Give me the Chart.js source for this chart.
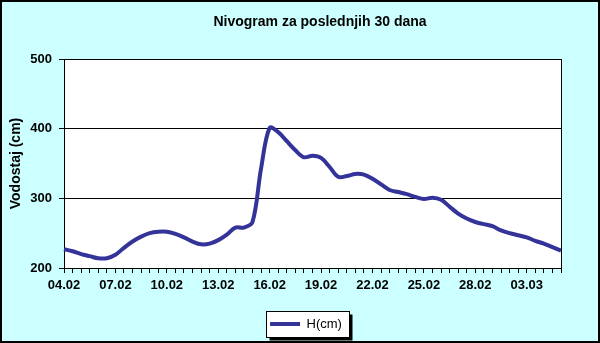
<!DOCTYPE html>
<html>
<head>
<meta charset="utf-8">
<script src="https://cdn.jsdelivr.net/npm/chart.js@4/dist/chart.umd.min.js"></script>
<style>
html,body{margin:0;padding:0;background:#CCFFFF;}
#wrap{width:600px;height:343px;position:relative;}
</style>
</head>
<body>
<div id="wrap"><canvas id="c" width="600" height="343"></canvas></div>
<script>
const titleText = 'Nivogram za poslednjih 30 dana';
const yAxisTitle = 'Vodostaj (cm)';
const seriesName = 'H(cm)';

const categories = [
  "04.02","04.02","05.02","05.02","06.02","06.02","07.02","07.02","08.02","08.02",
  "09.02","09.02","10.02","10.02","11.02","11.02","12.02","12.02","13.02","13.02",
  "14.02","14.02","15.02","15.02","16.02","16.02","17.02","17.02","18.02","18.02",
  "19.02","19.02","20.02","20.02","21.02","21.02","22.02","22.02","23.02","23.02",
  "24.02","24.02","25.02","25.02","26.02","26.02","27.02","27.02","28.02","28.02",
  "01.03","01.03","02.03","02.03","03.03","03.03","04.03","04.03","05.03"
];

const levels = [
  227,224,220,217,214,214,219,229,238,245,
  250,252,252,249,244,238,234,235,240,248,
  258,258,266,343,401,395,382,369,359,361,
  358,345,331,332,335,334,328,320,312,309,
  306,302,299,301,298,288,278,271,266,263,
  260,254,250,247,244,239,235,230,225
];

const yTicks = [200, 300, 400, 500];
const labelEvery = 6;

const FONT = "Arial, 'Liberation Sans', sans-serif";

const framePlugin = {
  id: 'frame',
  afterLayout(chart) {
    const t = chart.titleBlock;
    if (t) { t.left = 40; t.right = 600; t.width = 560; }
    const l = chart.legend;
    if (l) {
      const h = l.height;
      l.left = 0; l.right = 612; l.width = 612;
      l.top = 307.5; l.bottom = 307.5 + h;
    }
  },
  beforeDraw(chart) {
    const {ctx, chartArea: a} = chart;
    ctx.save();
    ctx.fillStyle = '#CCFFFF';
    ctx.fillRect(0, 0, chart.width, chart.height);
    ctx.fillStyle = '#FFFFFF';
    ctx.fillRect(a.left, a.top, a.right - a.left, a.bottom - a.top);
    const l = chart.legend;
    if (l && l.legendHitBoxes && l.legendHitBoxes.length) {
      const hb = l.legendHitBoxes[0];
      const bx = Math.round(hb.left - 4) + 0.5;
      const by = Math.round(hb.top - 6.5) + 0.5;
      const bw = Math.round(hb.width + 11);
      const bh = Math.round(hb.height + 13);
      ctx.fillStyle = '#000000';
      ctx.fillRect(bx + 3, by + 3, bw, bh);
      ctx.fillStyle = '#FFFFFF';
      ctx.fillRect(bx, by, bw, bh);
      ctx.strokeStyle = '#000000';
      ctx.lineWidth = 1;
      ctx.strokeRect(bx, by, bw, bh);
    }
    ctx.restore();
  },
  afterDraw(chart) {
    const {ctx, chartArea: a} = chart;
    ctx.save();
    ctx.strokeStyle = '#000000';
    ctx.lineWidth = 1;
    ctx.beginPath();
    ctx.moveTo(Math.round(a.right) + 0.5, a.top);
    ctx.lineTo(Math.round(a.right) + 0.5, a.bottom);
    ctx.stroke();
    ctx.lineWidth = 2;
    ctx.strokeRect(1, 1, chart.width - 2, chart.height - 2);
    ctx.restore();
  }
};

new Chart(document.getElementById('c'), {
  type: 'line',
  data: {
    labels: categories,
    datasets: [{
      label: seriesName,
      data: levels,
      borderColor: '#333399',
      backgroundColor: '#333399',
      borderWidth: 4,
      pointRadius: 0,
      pointHoverRadius: 0,
      pointStyle: 'line',
      tension: 0.35,
      fill: false
    }]
  },
  options: {
    responsive: false,
    animation: false,
    events: [],
    layout: { padding: { left: 0, right: 39, top: 0, bottom: 0 } },
    plugins: {
      title: {
        display: true,
        text: titleText,
        color: '#000000',
        font: { family: FONT, size: 14, weight: 'bold' },
        padding: { top: 13.6, bottom: 28.6 }
      },
      legend: {
        display: true,
        position: 'bottom',
        labels: {
          usePointStyle: true,
          pointStyle: 'line',
          pointStyleWidth: 30,
          padding: 10,
          color: '#000000',
          font: { family: FONT, size: 13 }
        }
      },
      tooltip: { enabled: false }
    },
    scales: {
      x: {
        type: 'category',
        offset: false,
        grid: {
          display: true,
          drawOnChartArea: false,
          drawTicks: true,
          tickLength: 5,
          color: '#000000',
          lineWidth: 1
        },
        border: { display: true, color: '#000000', width: 1 },
        ticks: {
          autoSkip: false,
          maxRotation: 0,
          minRotation: 0,
          padding: 5,
          color: '#000000',
          font: { family: FONT, size: 13, weight: 'bold' },
          callback: function(val, idx) {
            return idx % labelEvery === 0 ? this.getLabelForValue(val) : '';
          }
        },
        afterFit(scale) { scale.height = 42; }
      },
      y: {
        min: yTicks[0],
        max: yTicks[yTicks.length - 1],
        afterBuildTicks(scale) { scale.ticks = yTicks.map(v => ({ value: v })); },
        grid: {
          display: true,
          drawOnChartArea: true,
          drawTicks: true,
          tickLength: 5,
          color: '#000000',
          lineWidth: 1
        },
        border: { display: true, color: '#000000', width: 1 },
        ticks: {
          padding: 7,
          color: '#000000',
          font: { family: FONT, size: 13, weight: 'bold' }
        },
        title: {
          display: true,
          text: yAxisTitle,
          color: '#000000',
          font: { family: FONT, size: 14, weight: 'bold' },
          padding: { top: 7.6, bottom: 0 }
        },
        afterFit(scale) { scale.width = 64; }
      }
    }
  },
  plugins: [framePlugin]
});
</script>
</body>
</html>
